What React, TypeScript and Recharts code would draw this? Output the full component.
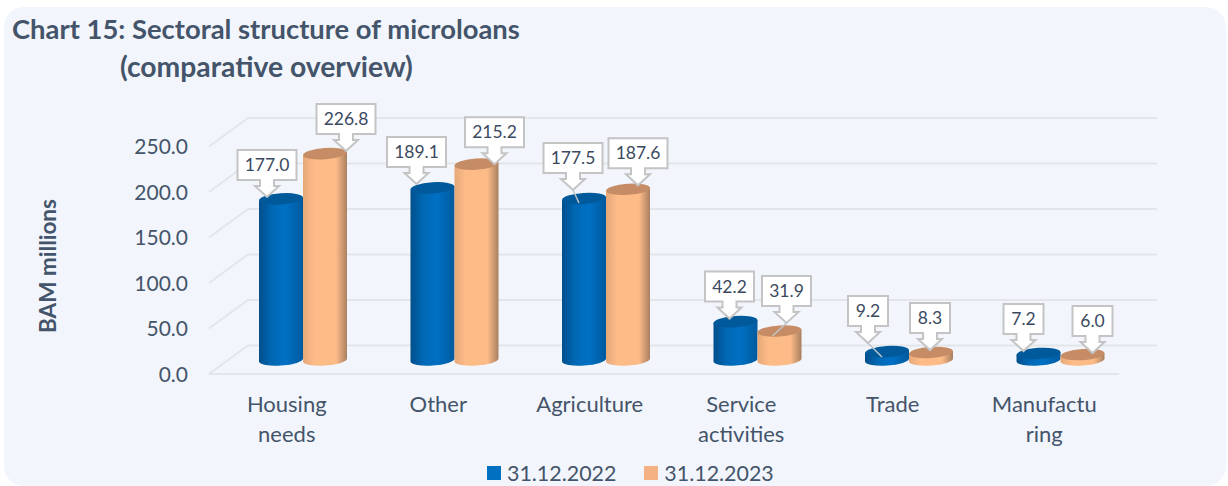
import React from 'react';
import { BarChart, Bar, XAxis, YAxis, CartesianGrid, Legend, LabelList } from 'recharts';

const categories = ['Housing\nneeds', 'Other', 'Agriculture', 'Service\nactivities', 'Trade', 'Manufactu\nring'];
const values2022 = [177.0, 189.1, 177.5, 42.2, 9.2, 7.2];
const values2023 = [226.8, 215.2, 187.6, 31.9, 8.3, 6.0];
const yTicks = [0, 50, 100, 150, 200, 250];

// callout placement relative to the top of each bar: [dx, dy, leaderDx, leaderDy]
const callouts2022 = [[-14, -2, 0, 0], [-16, -4, 0, 0], [-11, -8.5, 6, 13], [-6, -3, 0, 0], [-19, -8.6, 14, 14], [-15, -2.4, 0, 0]];
const callouts2023 = [[21, -2.6, 0, 0], [18, 0, 0, 0], [10, -4, 0, 0], [7, -8, -14, 13], [-1, -2.4, 0, 0], [10, -1.5, 0, 0]];

const chartData = categories.map((name, i) => ({ name, y2022: values2022[i], y2023: values2023[i] }));

const FONT = 'Lato, sans-serif';
const TEXT = '#44546a';
const GRID = '#e2e6ea';
const PLOT_BOTTOM = 360;

const Cylinder = ({ x, y, width, height, gradient, top }: any) => {
  const rx = width / 2;
  const ry = 5.6;
  const tilt = 1.5;
  const body = `M${x},${y + tilt} L${x},${y + height + tilt} A${rx},${ry} -4 0 0 ${x + width},${y + height - tilt} L${x + width},${y - tilt} Z`;
  return (
    <g>
      <path d={body} fill={`url(#${gradient})`} />
      <ellipse cx={x + rx} cy={y} rx={rx} ry={ry} fill={top} transform={`rotate(-4 ${x + rx} ${y})`} />
    </g>
  );
};

const makeCallout = (offsets: number[][]) => ({ x, y, width, value, index }: any) => {
  const [dx, dy, leadX, leadY] = offsets[index];
  const text = value.toFixed(1);
  const boxW = text.length === 5 ? 59 : text.length === 4 ? 49 : 40;
  const tipX = x + width / 2 + dx;
  const tipY = y + dy;
  const bottom = tipY - 17;
  const boxTop = bottom - 30;
  const left = tipX - boxW / 2;
  const right = tipX + boxW / 2;
  const d = `M${left},${boxTop} H${right} V${bottom} H${tipX + 7} V${bottom + 6} H${tipX + 12} L${tipX},${tipY} L${tipX - 12},${bottom + 6} H${tipX - 7} V${bottom} H${left} Z`;
  return (
    <g>
      {leadX !== 0 && <line x1={tipX} y1={tipY} x2={tipX + leadX} y2={tipY + leadY} stroke="#bfc4c8" strokeWidth={1.5} />}
      <path d={d} fill="#fff" stroke="#c4c4c4" strokeWidth={2} />
      <text x={tipX} y={bottom - 9} textAnchor="middle" fontFamily={FONT} fontSize={17.5} fill="#3b4a60">{text}</text>
    </g>
  );
};

const gridLine = ({ y1 }: any) => {
  const back = y1 - 14.5;
  return (
    <g key={`grid-${y1}`}>
      <path d={`M209,${y1 + 14} L248,${back} H1157`} fill="none" stroke={GRID} strokeWidth={2} />
      {Math.abs(y1 - PLOT_BOTTOM) < 1 && <line x1={209} y1={374} x2={1119} y2={374} stroke={GRID} strokeWidth={2} />}
    </g>
  );
};

const CategoryTick = ({ x, y, payload }: any) => (
  <text x={x - 16} y={y} textAnchor="middle" fontFamily={FONT} fontSize={22} fill={TEXT}>
    {payload.value.split('\n').map((line: string, i: number) => (
      <tspan key={line} x={x - 16} dy={i === 0 ? 0 : 30}>{line}</tspan>
    ))}
  </text>
);

const AxisTitle = () => (
  <text
    x={50}
    y={266}
    transform="rotate(-90 50 266)"
    textAnchor="middle"
    dominantBaseline="middle"
    fontFamily={FONT}
    fontWeight={700}
    fontSize={22.5}
    fill={TEXT}
  >
    BAM millions
  </text>
);

const LegendRow = ({ payload }: any) => (
  <div style={{ display: 'flex', fontFamily: FONT, fontSize: 21.4, color: TEXT, lineHeight: '26px' }}>
    {payload.map((item: any) => (
      <div key={item.value} style={{ display: 'flex', alignItems: 'center', marginRight: 28 }}>
        <span style={{ width: 14, height: 14, background: item.color, marginRight: 6 }} />
        {item.value}
      </div>
    ))}
  </div>
);

const App = () => (
  <div style={{ position: 'absolute', left: 0, top: 0, width: 1228, height: 486, overflow: 'hidden', background: '#fff' }}>
    <div style={{ position: 'absolute', left: 4, top: 7, width: 1222, height: 479, borderRadius: 20, background: '#f2f6fc' }} />
    <div style={{ position: 'absolute', left: 12, top: 13, fontFamily: FONT, fontWeight: 700, fontSize: 27.4, lineHeight: '32px', color: TEXT, whiteSpace: 'nowrap' }}>
      Chart 15: Sectoral structure of microloans
    </div>
    <div style={{ position: 'absolute', left: 120, top: 50, fontFamily: FONT, fontWeight: 700, fontSize: 28.3, lineHeight: '32px', color: TEXT, whiteSpace: 'nowrap' }}>
      (comparative overview)
    </div>
    <div style={{ position: 'absolute', left: 0, top: 0 }}>
      <BarChart
        width={1228}
        height={486}
        data={chartData}
        margin={{ top: 132.5, right: 92, bottom: 0, left: 0 }}
        barSize={44}
        barGap={0}
      >
        <defs>
          <linearGradient id="cylBlue" x1="0" y1="0" x2="1" y2="0">
            <stop offset="0" stopColor="#004f8c" />
            <stop offset="0.3" stopColor="#0068b4" />
            <stop offset="0.6" stopColor="#0070c4" />
            <stop offset="1" stopColor="#005a9e" />
          </linearGradient>
          <linearGradient id="cylOrange" x1="0" y1="0" x2="1" y2="0">
            <stop offset="0" stopColor="#e6a878" />
            <stop offset="0.25" stopColor="#fdbb88" />
            <stop offset="0.75" stopColor="#fdbb88" />
            <stop offset="1" stopColor="#a97f60" />
          </linearGradient>
        </defs>
        <CartesianGrid vertical={false} horizontal={gridLine} />
        <XAxis dataKey="name" interval={0} axisLine={false} tickLine={false} height={100} tick={<CategoryTick />} tickMargin={52} tickSize={0} />
        <YAxis
          width={227}
          domain={[0, 250]}
          ticks={yTicks}
          axisLine={false}
          tickLine={false}
          tickSize={0}
          tickMargin={39}
          tickFormatter={(v: number) => v.toFixed(1)}
          tick={{ fill: TEXT, fontSize: 21, fontFamily: FONT, dy: 14.5 }}
          label={<AxisTitle />}
        />
        <Legend
          verticalAlign="bottom"
          height={26}
          wrapperStyle={{ left: 487, width: 320, bottom: 0 }}
          content={<LegendRow />}
        />
        <Bar
          dataKey="y2022"
          name="31.12.2022"
          fill="#0070c0"
          isAnimationActive={false}
          shape={(p: any) => <Cylinder {...p} gradient="cylBlue" top="#00599a" />}
        >
          <LabelList dataKey="y2022" content={makeCallout(callouts2022)} />
        </Bar>
        <Bar
          dataKey="y2023"
          name="31.12.2023"
          fill="#f4b183"
          isAnimationActive={false}
          shape={(p: any) => <Cylinder {...p} gradient="cylOrange" top="#c68c65" />}
        >
          <LabelList dataKey="y2023" content={makeCallout(callouts2023)} />
        </Bar>
      </BarChart>
    </div>
  </div>
);

export default App;
